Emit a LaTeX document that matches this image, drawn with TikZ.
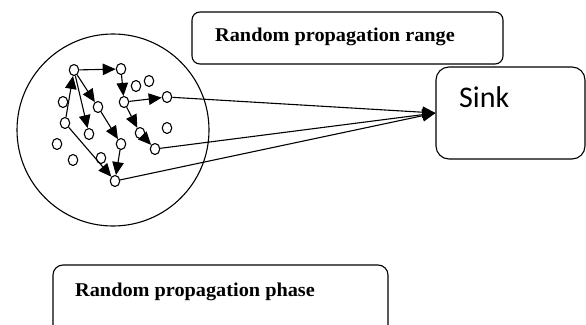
\documentclass[tikz,border=0pt]{standalone}
\usepackage{fontspec}
\newfontfamily\boxfont[FakeStretch=1.04]{Liberation Serif}
\newfontfamily\sinkfont{Carlito}
\usetikzlibrary{shapes.geometric,arrows.meta}
\begin{document}
\begin{tikzpicture}[x=1pt,y=-1pt,
  dot/.style={draw,ellipse,fill=white,minimum width=9.5pt,minimum height=11pt,inner sep=0pt,line width=1.1pt},
  rbox/.style={draw,rounded corners=8pt,line width=1.1pt,inner sep=0pt},
  lbl/.style={anchor=base west,inner sep=0pt,font=\boxfont\fontsize{19.5}{22}\selectfont\bfseries},
  arr/.style={line width=1.1pt,-{Triangle[length=13pt,width=11.5pt]}}]
\useasboundingbox (0,0) rectangle (586,324);
\clip (0,0) rectangle (586,324);
% propagation range circle
\node[draw,circle,line width=1.1pt,minimum size=192pt,inner sep=0pt] (range) at (113,130) {};
% boxes
\node[rbox,minimum width=311pt,minimum height=52pt] (rangebox) at (347.5,38) {};
\node[lbl] (rangetxt) at (215,41) {Random propagation range};
\node[rbox,minimum width=149pt,minimum height=92pt,rounded corners=13pt] (sink) at (510.5,113) {};
\node[anchor=base west,inner sep=0pt,font=\sinkfont\fontsize{30}{32}\selectfont] (sinktxt) at (459,107) {Sink};
\node[rbox,rounded corners=10pt,minimum width=335pt,minimum height=90pt] (phasebox) at (220.5,310) {};
\node[lbl] (phasetxt) at (75,296) {Random propagation phase};
% sensor nodes
\node[dot] (A) at (74,70) {};
\node[dot] (B) at (121,69) {};
\node[dot] (C) at (136,86) {};
\node[dot] (D) at (149,81) {};
\node[dot] (E) at (63,102) {};
\node[dot] (F) at (124,102) {};
\node[dot] (G) at (98,107) {};
\node[dot] (H) at (167,97) {};
\node[dot] (I) at (65,123) {};
\node[dot] (J) at (167,128) {};
\node[dot] (K) at (89,134) {};
\node[dot] (L) at (140,133) {};
\node[dot] (M) at (57,144) {};
\node[dot] (N) at (121,144) {};
\node[dot] (O) at (155,149) {};
\node[dot] (P) at (73,160) {};
\node[dot] (Q) at (101,158) {};
\node[dot] (R) at (115,181) {};
% propagation arrows
\draw[arr] (A) -- (B);
\draw[arr] (B) -- (F);
\draw[arr] (A) -- (G);
\draw[arr] (A) -- (K);
\draw[arr] (I) -- (A);
\draw[arr] (G) -- (N);
\draw[arr] (N) -- (R);
\draw[arr] (I) -- (R);
\draw[arr] (F) -- (H);
\draw[arr] (F) -- (L);
\draw[arr] (L) -- (O);
% to sink
\draw[arr] (H) -- (sink.west);
\draw[arr] (O) -- (sink.west);
\draw[arr] (R) -- (sink.west);
\end{tikzpicture}
\end{document}
